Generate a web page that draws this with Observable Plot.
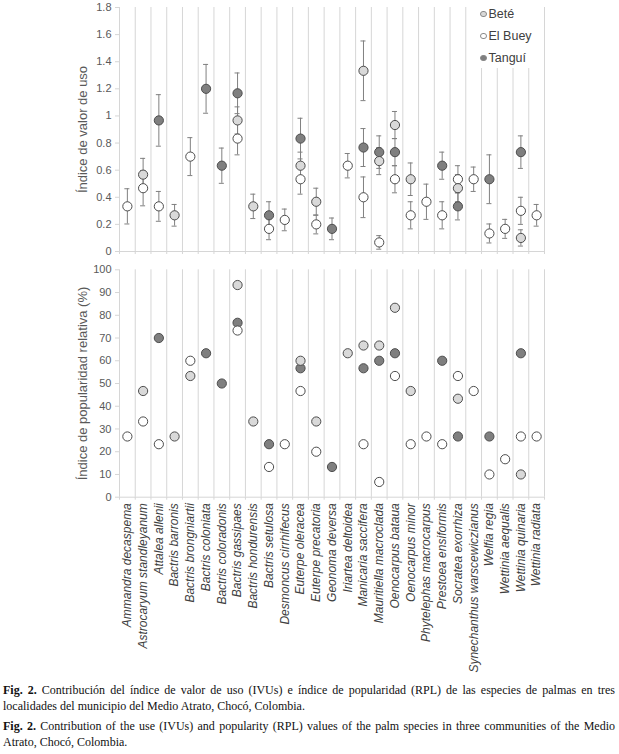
<!DOCTYPE html>
<html><head><meta charset="utf-8">
<script src="https://cdn.jsdelivr.net/npm/d3@7"></script>
<script src="https://cdn.jsdelivr.net/npm/@observablehq/plot@0.6"></script>
<style>
body{margin:0;background:#fff;font-family:"Liberation Sans",Arial,sans-serif;}
#wrap{position:relative;width:619px;}
#wrap svg{display:block;overflow:visible;}
#legend{position:absolute;left:474px;top:0;width:67px;height:68px;background:#fff;font-size:12.5px;color:#404040;}
#legend div{position:absolute;left:6px;height:20px;line-height:20px;white-space:nowrap;}
#legend span.c{display:inline-block;width:4.5px;height:4.5px;border-radius:50%;border:1px solid #8a8a8a;margin-right:2px;vertical-align:1px;}
#cap{width:612px;margin-left:3px;font-family:"Liberation Serif","Times New Roman",serif;font-size:12px;line-height:16px;color:#111;}
#cap p{margin:0;}
#cap p.j{text-align:justify;text-align-last:justify;}
#cap p.g{margin-top:4px;}
.xlab text{font-style:italic;}
g[aria-label="y-axis tick label"]{font-size:11px;}
g[aria-label="y-axis label"]{font-size:13px;}
</style>
</head><body>
<div id="wrap">
  <div id="top"></div>
  <div id="bottom"></div>
  <div id="legend"></div>
  <div id="cap">
    <p class="j"><b>Fig. 2.</b> Contribución del índice de valor de uso (IVUs) e índice de popularidad (RPL) de las especies de palmas en tres</p>
    <p>localidades del municipio del Medio Atrato, Chocó, Colombia.</p>
    <p class="j g"><b>Fig. 2.</b> Contribution of the use (IVUs) and popularity (RPL) values of the palm species in three communities of the Medio</p>
    <p>Atrato, Chocó, Colombia.</p>
  </div>
</div>
<script>
const species = ["Ammandra decaspema","Astrocaryum standleyanum","Attalea allenii","Bactris barronis","Bactris brongniartii","Bactris coloniata","Bactris coloradonis","Bactris gassipaes","Bactris hondurensis","Bactris setulosa","Desmoncus cirrhifecus","Euterpe oleracea","Euterpe precatoria","Geonoma deversa","Iriartea deltoidea","Manicaria saccifera","Mauritiella macroclada","Oenocarpus bataua","Oenocarpus minor","Phytelephas macrocarpus","Prestoea ensiformis","Socratea exorrhiza","Synechanthus warscewiczianus","Welfia regia","Wettinia aequalis","Wettinia quinaria","Wettinia radiata"];
const seriesNames = ["Beté","El Buey","Tanguí"];
const seriesFills = ["#d9d9d9","#ffffff","#7f7f7f"];

// Índice de valor de uso (IVUs) and error half-widths
const ivuBete     = [null,0.567,null,0.267,null,null,null,0.967,0.333,null,null,0.633,0.367,null,null,1.333,0.667,0.933,0.533,null,null,0.467,null,null,null,0.1,null];
const ivuBeteErr  = [null,0.12,null,0.08,null,null,null,0.1,0.09,null,null,0.1,0.1,null,null,0.22,0.1,0.1,0.12,null,null,0.1,null,null,null,0.06,null];
const ivuElBuey   = [0.333,0.467,0.333,null,0.7,null,null,0.833,null,0.167,0.233,0.533,0.2,null,0.633,0.4,0.067,0.533,0.267,0.367,0.267,0.533,0.533,0.133,0.167,0.3,0.267];
const ivuElBueyErr= [0.13,0.13,0.11,null,0.14,null,null,0.12,null,0.08,0.08,0.11,0.07,null,0.09,0.15,0.05,0.1,0.1,0.13,0.1,0.1,0.09,0.07,0.07,0.1,0.08];
const ivuTangui   = [null,null,0.967,null,null,1.2,0.633,1.167,null,0.267,null,0.833,null,0.167,null,0.767,0.733,0.733,null,null,0.633,0.333,null,0.533,null,0.733,null];
const ivuTanguiErr= [null,null,0.19,null,null,0.18,0.13,0.15,null,0.1,null,0.15,null,0.08,null,0.14,0.12,0.1,null,null,0.1,0.1,null,0.18,null,0.12,null];

// Índice de popularidad relativa (RPL, %)
const rplBete   = [null,46.7,null,26.7,53.3,null,null,93.3,33.3,null,null,60,33.3,null,63.3,66.7,66.7,83.3,46.7,null,null,43.3,null,null,null,10,null];
const rplElBuey = [26.7,33.3,23.3,null,60,null,null,73.3,null,13.3,23.3,46.7,20,null,null,23.3,6.7,53.3,23.3,26.7,23.3,53.3,46.7,10,16.7,26.7,26.7];
const rplTangui = [null,null,70,null,null,63.3,50,76.7,null,23.3,null,56.7,null,13.3,null,56.7,60,63.3,null,null,60,26.7,null,26.7,null,63.3,null];

const ivuTicks = [0,0.2,0.4,0.6,0.8,1,1.2,1.4,1.6,1.8];
const rplTicks = [0,10,20,30,40,50,60,70,80,90,100];

const n = species.length;
const bounds = d3.range(n + 1);
const centers = d3.range(n).map(i => i + 0.5);
const drawOrder = ["Tanguí","El Buey","Beté"];

function build(valueArrays, errArrays) {
  const out = [];
  drawOrder.forEach(s => {
    const k = seriesNames.indexOf(s);
    valueArrays[k].forEach((v, i) => {
      if (v == null) return;
      const e = errArrays ? errArrays[k][i] : null;
      out.push({series: s, xc: i + 0.5, v, lo: e == null ? null : v - e, hi: e == null ? null : v + e});
    });
  });
  return out;
}
const topRows = build([ivuBete, ivuElBuey, ivuTangui], [ivuBeteErr, ivuElBueyErr, ivuTanguiErr]);
const botRows = build([rplBete, rplElBuey, rplTangui], null);
const errRows = topRows.filter(d => d.hi != null);

const grid = "#d6d6d6";
const capHalf = 0.16;
const common = {
  width: 619, marginLeft: 119, marginRight: 75,
  style: {fontFamily: "'Liberation Sans', Arial, sans-serif", fontSize: "12px", color: "#595959", background: "transparent"},
  x: {domain: [0, n]},
  color: {domain: seriesNames, range: seriesFills}
};

const topPlot = Plot.plot({
  ...common,
  height: 262, marginTop: 7, marginBottom: 11,
  y: {domain: [0, 1.8]},
  marks: [
    Plot.ruleX(bounds, {stroke: grid}),
    Plot.ruleY([0], {stroke: grid}),
    Plot.axisX({ticks: bounds, tickSize: 3, tickFormat: () => "", label: null, stroke: grid}),
    Plot.axisY({ticks: ivuTicks, tickSize: 4, tickPadding: 4, tickFormat: d => String(d), stroke: grid, fill: "#595959",
      label: "Índice de valor de uso", labelAnchor: "center", labelArrow: "none", labelOffset: 42}),
    Plot.ruleX(errRows, {x: "xc", y1: "lo", y2: "hi", stroke: "#808080", strokeWidth: 1}),
    Plot.ruleY(errRows, {y: "hi", x1: d => d.xc - capHalf, x2: d => d.xc + capHalf, stroke: "#808080"}),
    Plot.ruleY(errRows, {y: "lo", x1: d => d.xc - capHalf, x2: d => d.xc + capHalf, stroke: "#808080"}),
    Plot.dot(topRows, {x: "xc", y: "v", r: 4.6, fill: "series", stroke: "#4d4d4d", strokeWidth: 1})
  ]
});

const botPlot = Plot.plot({
  ...common,
  height: 420, marginTop: 7.3, marginBottom: 185.3,
  y: {domain: [0, 100]},
  marks: [
    Plot.ruleX(bounds, {stroke: grid}),
    Plot.ruleY([0], {stroke: grid}),
    Plot.axisX({ticks: bounds, tickSize: 3, tickFormat: () => "", label: null, stroke: grid}),
    Plot.axisX({ticks: centers, tickSize: 0, tickPadding: 6, tickRotate: -90, tickFormat: d => species[Math.floor(d)],
      label: null, fill: "#404040", fontSize: 12, fontStyle: "italic", className: "xlab"}),
    Plot.axisY({ticks: rplTicks, tickSize: 4, tickPadding: 4, tickFormat: d => String(d), stroke: grid, fill: "#595959",
      label: "Índice de popularidad relativa (%)", labelAnchor: "center", labelArrow: "none", labelOffset: 42}),
    Plot.dot(botRows, {x: "xc", y: "v", r: 4.6, fill: "series", stroke: "#4d4d4d", strokeWidth: 1})
  ]
});

document.getElementById("top").appendChild(topPlot);
document.getElementById("bottom").appendChild(botPlot);

const legend = document.getElementById("legend");
seriesNames.forEach((s, k) => {
  const row = document.createElement("div");
  row.style.top = (4 + k * 22) + "px";
  const c = document.createElement("span");
  c.className = "c";
  c.style.background = seriesFills[k];
  row.appendChild(c);
  row.appendChild(document.createTextNode(s));
  legend.appendChild(row);
});
</script>
</body></html>
